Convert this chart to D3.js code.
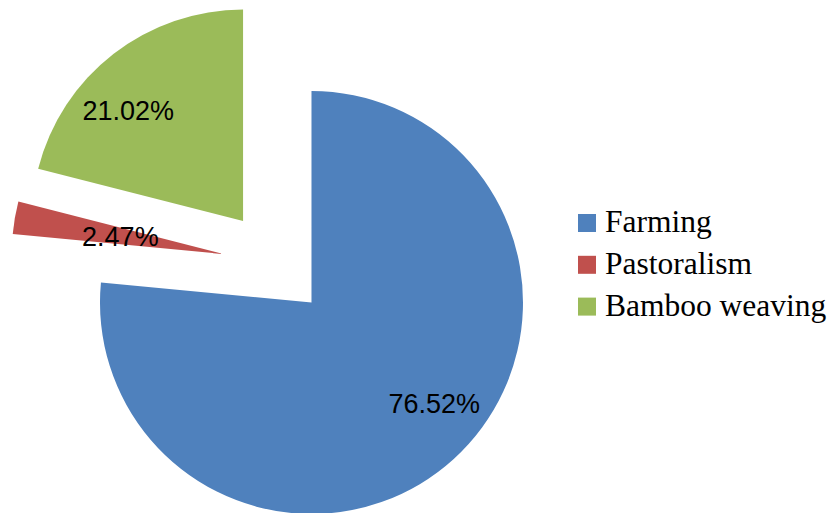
<!DOCTYPE html>
<html>
<head>
<meta charset="utf-8">
<script src="https://cdn.jsdelivr.net/npm/d3@7"></script>
<style>
  html, body { margin: 0; padding: 0; background: #ffffff; }
  svg { display: block; }
</style>
</head>
<body>
<svg id="chart" width="832" height="513"></svg>
<script>
// ---- data ----
const categories = ["Farming", "Pastoralism", "Bamboo weaving"];
const values = [76.52, 2.47, 21.02];
const labels = ["76.52%", "2.47%", "21.02%"];
const colors = ["#4F81BD", "#C0504D", "#9BBB59"];

// ---- layout / style ----
const W = 832, H = 513;
const cx = 275.7, cy = 263.1;
const radius = 211.5;
const explode = 53.2;
// label placement: [fraction of radius from slice tip, angular shift in degrees]
const labelPlacement = [[0.752, -8.2], [0.494, 0], [0.755, -8.1]];

const svg = d3.select("#chart");
const g = svg.append("g").attr("transform", `translate(${cx},${cy})`);

const data = categories.map((c, i) => ({ name: c, value: values[i], label: labels[i], color: colors[i], idx: i }));

const pie = d3.pie().value(d => d.value).sort(null).startAngle(0).endAngle(2 * Math.PI);
const arcs = pie(data);
const arc = d3.arc().innerRadius(0).outerRadius(radius);

const slices = g.selectAll("g.slice").data(arcs).enter().append("g")
  .attr("class", "slice")
  .attr("transform", d => {
    const a = (d.startAngle + d.endAngle) / 2;
    return `translate(${explode * Math.sin(a)},${-explode * Math.cos(a)})`;
  });

slices.append("path")
  .attr("d", arc)
  .attr("fill", d => d.data.color);

slices.append("text")
  .attr("transform", d => {
    const p = labelPlacement[d.data.idx];
    const a = (d.startAngle + d.endAngle) / 2 + p[1] * Math.PI / 180;
    const r = radius * p[0];
    return `translate(${r * Math.sin(a)},${-r * Math.cos(a)})`;
  })
  .attr("text-anchor", "middle")
  .attr("dy", "0.36em")
  .attr("font-family", "'Liberation Sans', Arial, sans-serif")
  .attr("font-size", 27)
  .attr("fill", "#000")
  .text(d => d.data.label);

// ---- legend ----
const legend = svg.append("g");
const legendX = 578, legendY0 = 232, legendStep = 41.8, sq = 18;
const items = legend.selectAll("g").data(data).enter().append("g")
  .attr("transform", (d, i) => `translate(${legendX},${legendY0 + i * legendStep})`);
items.append("rect")
  .attr("x", 0).attr("y", -sq).attr("width", sq).attr("height", sq)
  .attr("fill", d => d.color);
items.append("text")
  .attr("x", 27).attr("y", 0)
  .attr("font-family", "'Liberation Serif', 'Times New Roman', serif")
  .attr("font-size", 31.5)
  .attr("fill", "#000")
  .text(d => d.name);
</script>
</body>
</html>
